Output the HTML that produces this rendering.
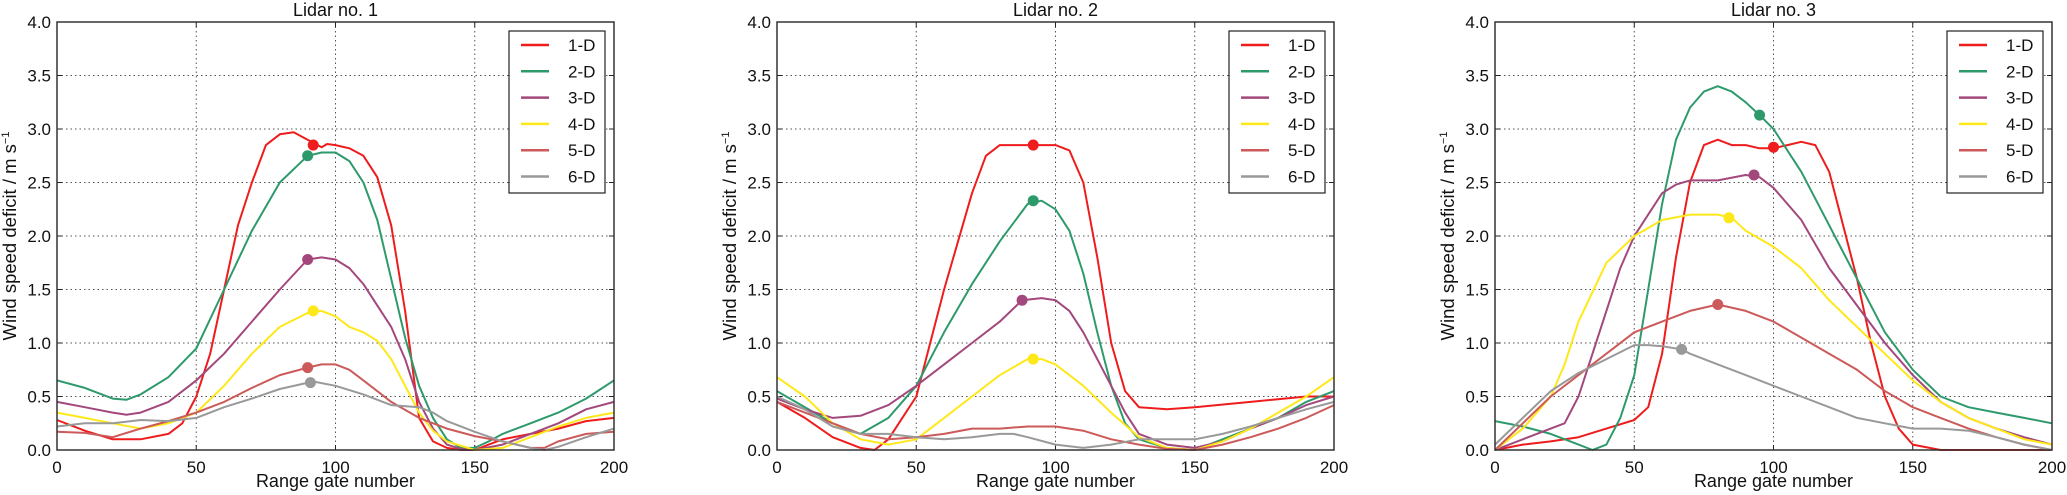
<!DOCTYPE html>
<html><head><meta charset="utf-8"><style>
body{margin:0;background:#fff;}
svg{display:block;font-family:"Liberation Sans",sans-serif;}
</style></head><body>
<svg id="fig" width="2067" height="495" xmlns="http://www.w3.org/2000/svg"></svg>
<script>
const seriesNames=["1-D","2-D","3-D","4-D","5-D","6-D"];
const seriesColors=["#ee1c1c","#2e9a6c","#a3487c","#ffe81a","#cc5a5a","#999999"];
const panelTitles=["Lidar no. 1","Lidar no. 2","Lidar no. 3"];
const xTicks=[0,50,100,150,200];
const yTicks=[0,0.5,1.0,1.5,2.0,2.5,3.0,3.5,4.0];

// Lidar 1: [gate, deficit]
const p1_1D=[[0,.28],[10,.18],[20,.1],[30,.1],[40,.15],[45,.25],[50,.5],[55,.9],[60,1.5],[65,2.1],[70,2.5],[75,2.85],[80,2.95],[85,2.97],[90,2.9],[95,2.83],[97,2.86],[100,2.85],[105,2.82],[110,2.75],[115,2.55],[120,2.1],[125,1.3],[128,.7],[130,.3],[135,.08],[140,.02],[145,0],[150,0],[155,.05],[160,.1],[170,.15],[180,.2],[190,.27],[200,.3]];
const p1_2D=[[0,.65],[10,.58],[20,.48],[25,.47],[30,.52],[40,.68],[50,.95],[60,1.5],[70,2.05],[80,2.5],[90,2.75],[95,2.78],[100,2.78],[105,2.7],[110,2.5],[115,2.15],[120,1.6],[125,1.05],[130,.6],[135,.3],[140,.1],[145,.02],[150,.02],[155,.08],[160,.15],[170,.25],[180,.35],[190,.48],[200,.65]];
const p1_3D=[[0,.45],[10,.4],[20,.35],[25,.33],[30,.35],[40,.45],[50,.65],[60,.9],[70,1.2],[80,1.5],[90,1.78],[95,1.8],[100,1.78],[105,1.7],[110,1.55],[120,1.15],[125,.85],[130,.45],[135,.2],[140,.05],[145,.01],[150,0],[160,.05],[170,.15],[180,.25],[190,.38],[200,.45]];
const p1_4D=[[0,.35],[10,.3],[20,.25],[30,.2],[40,.25],[50,.35],[60,.6],[70,.9],[80,1.15],[90,1.28],[95,1.3],[100,1.25],[105,1.15],[110,1.1],[115,1.02],[120,.85],[125,.6],[130,.35],[135,.18],[140,.08],[150,0],[160,.02],[170,.12],[180,.22],[190,.3],[200,.35]];
const p1_5D=[[0,.17],[10,.16],[20,.12],[30,.2],[40,.27],[50,.35],[60,.45],[70,.58],[80,.7],[90,.77],[95,.8],[100,.8],[105,.75],[110,.65],[120,.45],[130,.3],[140,.2],[150,.13],[160,.08],[170,.02],[175,.02],[180,.08],[190,.15],[200,.17]];
const p1_6D=[[0,.22],[10,.25],[20,.25],[30,.28],[40,.27],[50,.3],[60,.4],[70,.48],[80,.57],[92,.64],[100,.6],[110,.52],[120,.42],[130,.4],[135,.35],[140,.27],[150,.17],[160,.08],[170,.02],[175,0],[180,.03],[190,.12],[200,.2]];
const p1_dotX=[92,90,90,92,90,91];
const p1_dotY=[2.85,2.75,1.78,1.3,0.77,0.63];

// Lidar 2
const p2_1D=[[0,.45],[10,.3],[20,.12],[30,.02],[35,0],[40,.1],[50,.5],[60,1.5],[70,2.4],[75,2.75],[80,2.85],[90,2.85],[100,2.85],[105,2.8],[110,2.5],[115,1.8],[120,1.0],[125,.55],[130,.4],[140,.38],[150,.4],[170,.45],[190,.5],[200,.5]];
const p2_2D=[[0,.55],[10,.4],[20,.25],[30,.15],[40,.3],[50,.6],[60,1.1],[70,1.55],[80,1.95],[90,2.3],[95,2.33],[100,2.25],[105,2.05],[110,1.65],[115,1.1],[120,.6],[125,.25],[130,.1],[140,.02],[150,0],[160,.1],[170,.2],[180,.3],[190,.45],[200,.55]];
const p2_3D=[[0,.48],[10,.38],[20,.3],[30,.32],[40,.42],[50,.6],[60,.8],[70,1.0],[80,1.2],[88,1.4],[95,1.42],[100,1.4],[105,1.3],[110,1.1],[120,.6],[125,.35],[130,.15],[140,.05],[150,.02],[160,.08],[170,.2],[180,.3],[190,.42],[200,.5]];
const p2_4D=[[0,.68],[10,.5],[20,.25],[30,.1],[40,.05],[50,.1],[60,.3],[70,.5],[80,.7],[90,.85],[95,.85],[100,.8],[110,.6],[120,.35],[130,.12],[140,.02],[150,0],[160,.08],[170,.2],[180,.35],[190,.5],[200,.68]];
const p2_5D=[[0,.45],[10,.35],[20,.25],[30,.15],[40,.1],[50,.12],[60,.15],[70,.2],[80,.2],[90,.22],[100,.22],[110,.18],[120,.1],[130,.05],[140,.01],[150,0],[160,.05],[170,.12],[180,.2],[190,.3],[200,.42]];
const p2_6D=[[0,.5],[10,.38],[20,.22],[30,.15],[40,.15],[50,.12],[60,.1],[70,.12],[80,.15],[85,.15],[90,.12],[100,.05],[110,.02],[120,.05],[130,.1],[140,.1],[150,.1],[160,.15],[170,.22],[180,.3],[190,.38],[200,.45]];
const p2_dotX=[92,92,88,92,null,null];
const p2_dotY=[2.85,2.33,1.4,0.85,null,null];

// Lidar 3
const p3_1D=[[0,0],[10,.05],[20,.08],[30,.12],[40,.2],[50,.28],[55,.4],[60,.9],[65,1.8],[70,2.5],[75,2.85],[80,2.9],[85,2.85],[90,2.85],[95,2.82],[100,2.82],[105,2.85],[110,2.88],[115,2.85],[120,2.6],[125,2.1],[130,1.6],[135,1.0],[140,.5],[145,.2],[150,.05],[160,0],[170,0],[200,0]];
const p3_2D=[[0,.27],[10,.22],[20,.15],[30,.05],[35,0],[40,.05],[45,.3],[50,.7],[55,1.5],[60,2.3],[65,2.9],[70,3.2],[75,3.35],[80,3.4],[85,3.35],[90,3.25],[95,3.13],[100,3.0],[110,2.6],[120,2.1],[130,1.6],[140,1.1],[150,.75],[160,.5],[170,.4],[180,.35],[190,.3],[200,.25]];
const p3_3D=[[0,0],[10,.1],[20,.2],[25,.25],[30,.5],[35,.9],[40,1.3],[45,1.7],[50,2.0],[55,2.2],[60,2.4],[65,2.48],[70,2.52],[80,2.52],[90,2.57],[95,2.55],[100,2.45],[110,2.15],[120,1.7],[130,1.35],[140,1.0],[150,.7],[160,.45],[170,.3],[180,.2],[190,.12],[200,.05]];
const p3_4D=[[0,0],[10,.2],[20,.5],[25,.8],[30,1.2],[40,1.75],[50,2.0],[60,2.15],[70,2.2],[80,2.2],[85,2.17],[90,2.05],[100,1.9],[110,1.7],[120,1.4],[130,1.15],[140,.9],[150,.65],[160,.45],[170,.3],[180,.2],[190,.1],[200,.05]];
const p3_5D=[[0,0],[10,.25],[20,.5],[30,.7],[40,.9],[50,1.1],[60,1.2],[70,1.3],[80,1.36],[90,1.3],[100,1.2],[110,1.05],[120,.9],[130,.75],[140,.55],[150,.4],[160,.3],[170,.2],[180,.12],[190,.05],[200,0]];
const p3_6D=[[0,.05],[10,.3],[20,.55],[30,.72],[40,.85],[50,.98],[55,.98],[60,.97],[67,.94],[70,.9],[80,.8],[90,.7],[100,.6],[110,.5],[120,.4],[130,.3],[140,.25],[150,.2],[160,.2],[170,.18],[180,.12],[190,.05],[200,0]];
const p3_dotX=[100,95,93,84,80,67];
const p3_dotY=[2.83,3.13,2.57,2.17,1.36,0.94];

const panelSeries=[[p1_1D,p1_2D,p1_3D,p1_4D,p1_5D,p1_6D],[p2_1D,p2_2D,p2_3D,p2_4D,p2_5D,p2_6D],[p3_1D,p3_2D,p3_3D,p3_4D,p3_5D,p3_6D]];
const panelDotX=[p1_dotX,p2_dotX,p3_dotX];
const panelDotY=[p1_dotY,p2_dotY,p3_dotY];

const NS="http://www.w3.org/2000/svg";
const svg=document.getElementById('fig');
function mk(tag,attrs,parent){const e=document.createElementNS(NS,tag);for(const k in attrs)e.setAttribute(k,attrs[k]);(parent||svg).appendChild(e);return e;}
const lefts=[57,777,1495], W=557, TOP=22, BOT=450;

panelTitles.forEach((title,p)=>{
  const L=lefts[p];
  const g=mk('g',{});
  
  
  const sx=v=>L+v/200*W;
  const sy=v=>BOT-v/4*(BOT-TOP);
  xTicks.forEach(t=>{
    if(t>0&&t<200){const l=mk('line',{x1:sx(t),x2:sx(t),y1:TOP,y2:BOT,stroke:'#555','stroke-width':1,'stroke-dasharray':'1.5,3'},g);
    }
    const tk=mk('text',{x:sx(t),y:BOT+23,'text-anchor':'middle','font-size':17,fill:'#111'},g);
    tk.textContent=t;
    mk('line',{x1:sx(t),x2:sx(t),y1:BOT,y2:BOT-5,stroke:'#222'},g);
    mk('line',{x1:sx(t),x2:sx(t),y1:TOP,y2:TOP+5,stroke:'#222'},g);
  });
  yTicks.forEach(t=>{
    if(t>0&&t<4){const l=mk('line',{x1:L,x2:L+W,y1:sy(t),y2:sy(t),stroke:'#555','stroke-width':1,'stroke-dasharray':'1.5,3'},g);
    }
    const tk=mk('text',{x:L-6,y:sy(t)+6,'text-anchor':'end','font-size':17,fill:'#111'},g);
    tk.textContent=t.toFixed(1);
    mk('line',{x1:L,x2:L+5,y1:sy(t),y2:sy(t),stroke:'#222'},g);
    mk('line',{x1:L+W,x2:L+W-5,y1:sy(t),y2:sy(t),stroke:'#222'},g);
  });
  panelSeries[p].forEach((pts,s)=>{
    const d=pts.map((q,i)=>(i?'L':'M')+sx(q[0]).toFixed(1)+','+sy(q[1]).toFixed(1)).join(' ');
    const path=mk('path',{d:d,fill:'none',stroke:seriesColors[s],'stroke-width':2,'stroke-linejoin':'round'},g);
    
    
  });
  panelDotX[p].forEach((x,s)=>{
    if(x===null)return;
    const c=mk('circle',{cx:sx(x),cy:sy(panelDotY[p][s]),r:5.5,fill:seriesColors[s]},g);
    
    
  });
  const fr=mk('rect',{x:L,y:TOP,width:W,height:BOT-TOP,fill:'none',stroke:'#333','stroke-width':1.5},g);
  
  const tt=mk('text',{x:L+W/2,y:TOP-6,'text-anchor':'middle','font-size':18,fill:'#111'},g);
  tt.textContent=title;
  const xl=mk('text',{x:L+W/2,y:487,'text-anchor':'middle','font-size':18,fill:'#111'},g);
  xl.textContent='Range gate number';
  const yl=mk('text',{x:0,y:0,'text-anchor':'middle','font-size':18.5,fill:'#111',transform:'translate('+(L-41)+','+((TOP+BOT)/2)+') rotate(-90)'},g);
  
  yl.textContent='Wind speed deficit / m s';
  const sup=mk('tspan',{dy:-7,'font-size':11},yl);sup.textContent='\u22121';
  const lg=mk('g',{},g);
  
  const lx=L+W-105;
  mk('rect',{x:lx,y:31,width:96,height:162,fill:'#fff',stroke:'#222','stroke-width':1.2},lg);
  seriesNames.forEach((n,s)=>{
    const y=45+s*26.3;
    const e=mk('g',{},lg);
    
    mk('line',{x1:lx+12,x2:lx+40,y1:y,y2:y,stroke:seriesColors[s],'stroke-width':2.5},e);
    const t=mk('text',{x:lx+59,y:y+6,'font-size':17,fill:'#111'},e);t.textContent=n;
  });
});
</script>
</body></html>
